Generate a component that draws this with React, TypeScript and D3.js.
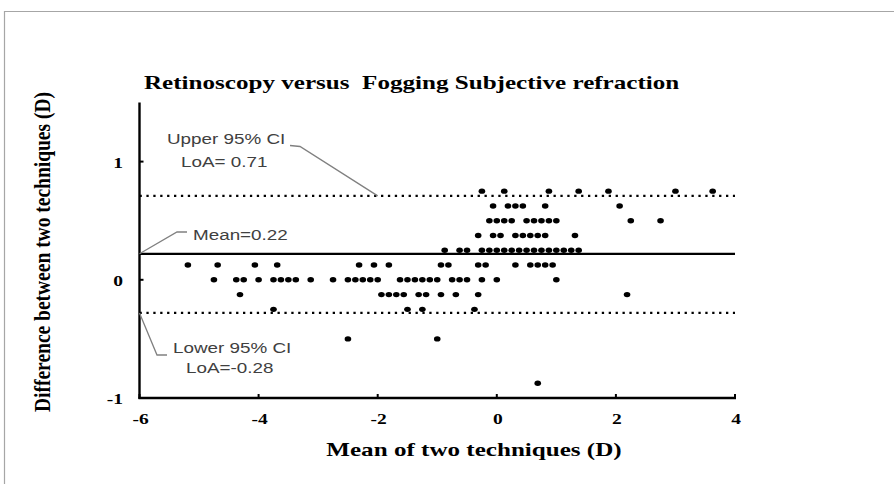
import React from "react";
import { scaleLinear } from "d3";

const width = 894;
const height = 484;

// limits of agreement
const meanDiff = 0.22;
const upperLoA = 0.71;
const lowerLoA = -0.28;

// difference rows (D) and the means (D) found on each row
const diffLevels = [0.75, 0.625, 0.5, 0.375, 0.25, 0.125, 0, -0.125, -0.25, -0.5, -0.875];
const meansAt075 = [-0.25, 0.125, 0.875, 1.375, 1.875, 3.0, 3.625];
const meansAt0625 = [-0.0625, 0.1875, 0.3125, 0.4375, 0.8125, 2.0625];
const meansAt05 = [-0.125, 0, 0.125, 0.25, 0.5, 0.625, 0.75, 0.875, 1.0, 2.25, 2.75];
const meansAt0375 = [-0.3125, -0.0625, 0.0625, 0.3125, 0.4375, 0.5625, 0.6875, 0.8125, 1.3125];
const meansAt025 = [
  -0.875, -0.625, -0.5, -0.25, -0.125, 0, 0.125, 0.25, 0.375, 0.5, 0.625, 0.75,
  0.875, 1.0, 1.125, 1.25, 1.375,
];
const meansAt0125 = [
  -5.1875, -4.6875, -4.0625, -3.6875, -2.3125, -2.0625, -1.8125, -0.9375,
  -0.8125, -0.3125, -0.1875, 0.3125, 0.5625, 0.6875, 0.8125, 0.9375,
];
const meansAt0 = [
  -4.75, -4.375, -4.25, -4.0, -3.75, -3.625, -3.5, -3.375, -3.125, -2.75, -2.5,
  -2.375, -2.25, -2.125, -2.0, -1.625, -1.5, -1.375, -1.25, -1.125, -1.0,
  -0.75, -0.625, -0.5, -0.25, 0, 1.0,
];
const meansAtM0125 = [
  -4.3125, -1.9375, -1.8125, -1.6875, -1.5625, -1.3125, -1.1875, -0.9375,
  -0.6875, -0.3125, 2.1875,
];
const meansAtM025 = [-3.75, -1.5, -1.25, -0.375];
const meansAtM05 = [-2.5, -1.0];
const meansAtM0875 = [0.6875];

const meansByLevel = [
  meansAt075, meansAt0625, meansAt05, meansAt0375, meansAt025, meansAt0125,
  meansAt0, meansAtM0125, meansAtM025, meansAtM05, meansAtM0875,
];

const xTicks = [-6, -4, -2, 0, 2, 4];
const yTicks = [-1, 0, 1];

const points = diffLevels.flatMap((d, i) =>
  meansByLevel[i].map((m) => ({ mean: m, diff: d })),
);

const serif = '"Liberation Serif", "Times New Roman", serif';
const sans = '"Liberation Sans", Arial, sans-serif';
const sx = 1.3; // the picture is stretched sideways

function SText({ x, y, size, anchor = "start", weight = 400, family = serif, fill = "#000", children }: any) {
  return (
    <text
      transform={`translate(${x},${y}) scale(${sx},1)`}
      fontSize={size}
      fontWeight={weight}
      fontFamily={family}
      textAnchor={anchor}
      fill={fill}
      style={{ whiteSpace: "pre" }}
    >
      {children}
    </text>
  );
}

export default function App() {
  const x = scaleLinear().domain([-6, 4]).range([139.5, 735]);
  const y = scaleLinear().domain([-1, 1.5]).range([398, 102.5]);

  const x0 = x(-6);
  const x1 = x(4);
  const annColor = "#404040";
  const leader = "#808080";

  return (
    <svg
      width={width}
      height={height}
      style={{ position: "absolute", left: 0, top: 0, background: "#fff" }}
    >
      {/* frame */}
      <line x1={4} x2={width} y1={11.5} y2={11.5} stroke="#a6a6a6" strokeWidth={1.2} />
      <line x1={4.5} x2={4.5} y1={11} y2={height} stroke="#a6a6a6" strokeWidth={1.2} />

      <SText x={144} y={89} size={19.3} weight={700}>
        {"Retinoscopy versus  Fogging Subjective refraction"}
      </SText>

      {/* limit lines */}
      <line x1={x0} x2={x1} y1={y(upperLoA)} y2={y(upperLoA)} stroke="#000" strokeWidth={2.3} strokeDasharray="2.3 4.6" />
      <line x1={x0} x2={x1} y1={y(lowerLoA)} y2={y(lowerLoA)} stroke="#000" strokeWidth={2.3} strokeDasharray="2.3 4.6" />
      <line x1={x0} x2={x1} y1={y(meanDiff)} y2={y(meanDiff)} stroke="#000" strokeWidth={2.2} />

      {/* points */}
      {points.map((p, i) => (
        <ellipse key={i} cx={x(p.mean)} cy={y(p.diff)} rx={3.3} ry={2.7} fill="#000" />
      ))}

      {/* axes */}
      <line x1={x0} x2={x0} y1={y(1.5)} y2={y(-1) + 1} stroke="#000" strokeWidth={2.4} />
      <line x1={x0 - 1} x2={x1 + 1} y1={y(-1)} y2={y(-1)} stroke="#000" strokeWidth={2.4} />
      {yTicks.map((t) => (
        <g key={t}>
          <line x1={x0} x2={x0 + 4} y1={y(t)} y2={y(t)} stroke="#000" strokeWidth={2} />
          <SText x={123} y={y(t) + 6} size={15} weight={700} anchor="end">
            {t}
          </SText>
        </g>
      ))}
      {xTicks.map((t) => (
        <g key={t}>
          <line x1={x(t)} x2={x(t)} y1={y(-1)} y2={y(-1) - 4} stroke="#000" strokeWidth={2} />
          <SText x={x(t) + 1} y={423.5} size={15} weight={700} anchor="middle">
            {t}
          </SText>
        </g>
      ))}

      <SText x={474} y={456} size={19.3} weight={700} anchor="middle">
        Mean of two techniques (D)
      </SText>
      <text
        transform={`translate(50,252) scale(1.15,1) rotate(-90)`}
        fontSize={19.5}
        fontWeight={700}
        fontFamily={serif}
        textAnchor="middle"
      >
        Difference between two techniques (D)
      </text>

      {/* annotations */}
      <polyline
        points={`290,145.5 300,146.5 ${x(-2)},${y(upperLoA)}`}
        fill="none"
        stroke={leader}
        strokeWidth={1.3}
      />
      <polyline
        points={`${x0},${y(meanDiff)} 177,232 187,232`}
        fill="none"
        stroke={leader}
        strokeWidth={1.3}
      />
      <polyline
        points={`${x0},${y(lowerLoA)} 157,355 167,355`}
        fill="none"
        stroke={leader}
        strokeWidth={1.3}
      />
      <SText x={167} y={144} size={14.5} family={sans} fill={annColor}>Upper 95% CI</SText>
      <SText x={181} y={166.5} size={14.5} family={sans} fill={annColor}>LoA= 0.71</SText>
      <SText x={193} y={240} size={14.5} family={sans} fill={annColor}>Mean=0.22</SText>
      <SText x={173} y={353} size={14.5} family={sans} fill={annColor}>Lower 95% CI</SText>
      <SText x={186} y={373} size={14.5} family={sans} fill={annColor}>LoA=-0.28</SText>
    </svg>
  );
}
